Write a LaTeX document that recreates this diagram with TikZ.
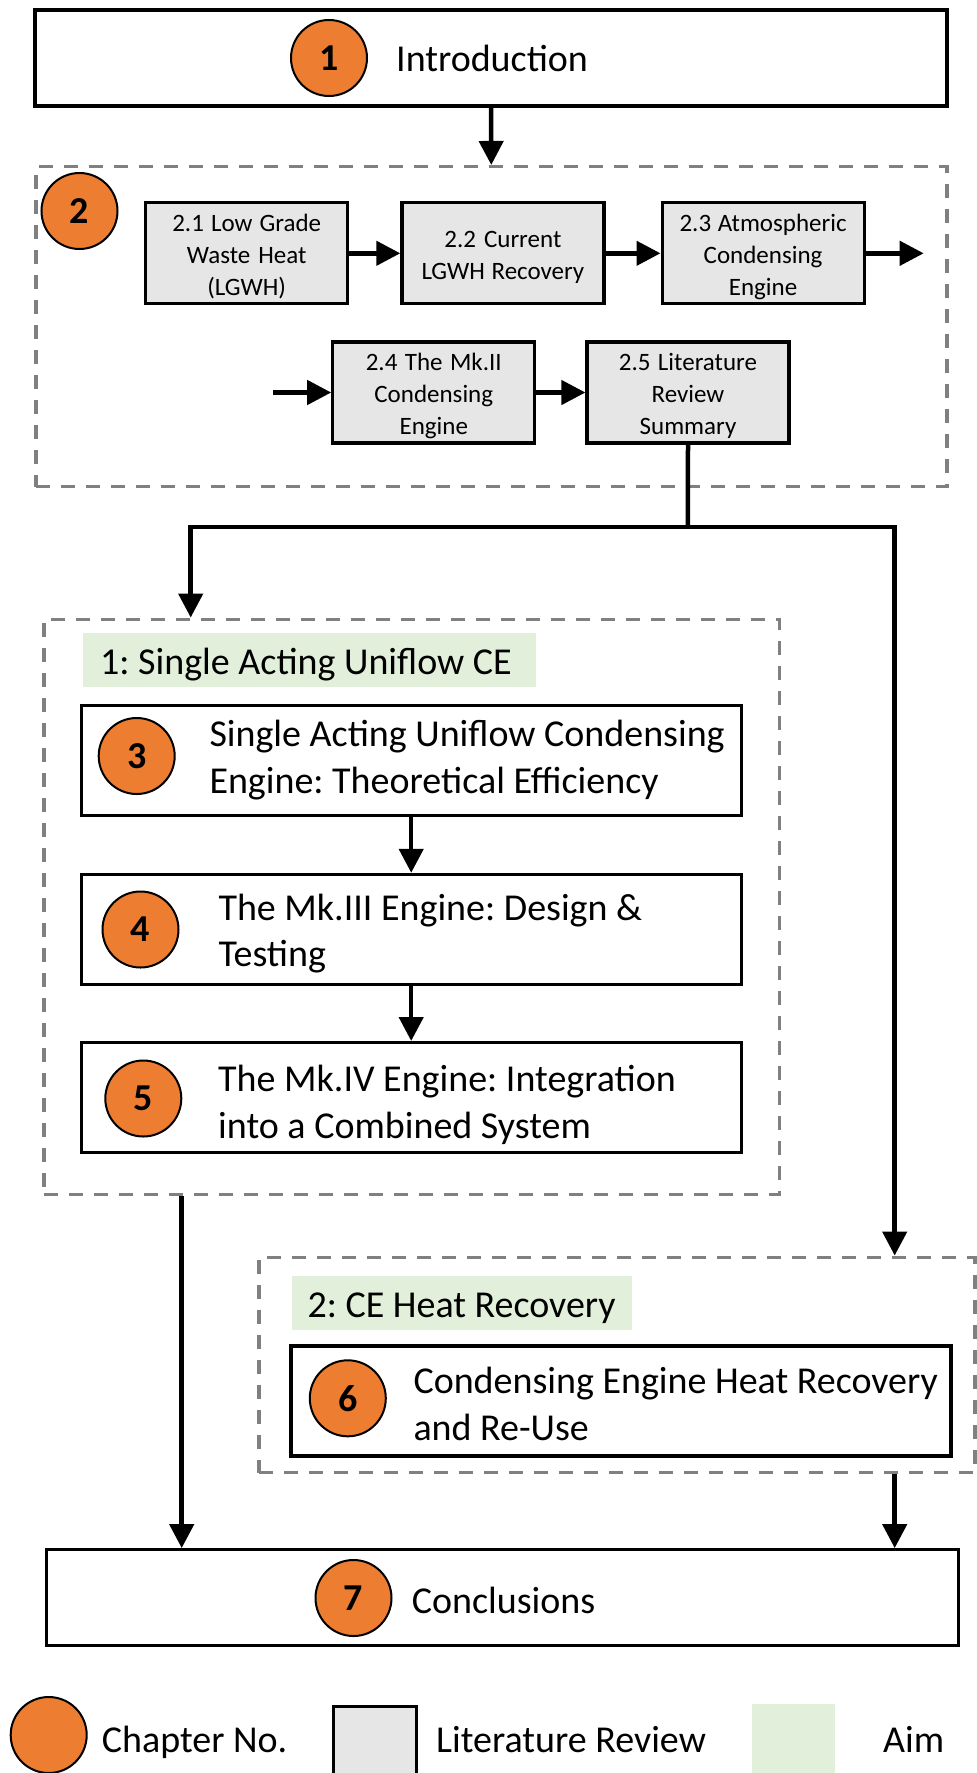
\documentclass[tikz,border=0pt]{standalone}
\usepackage{fontspec}
\setmainfont{Carlito}
\frenchspacing
\usetikzlibrary{arrows.meta,positioning}

\definecolor{chapter}{HTML}{ED7D31}
\definecolor{litgray}{HTML}{E7E6E6}
\definecolor{aimgreen}{HTML}{E2EFDA}
\definecolor{groupgray}{HTML}{808080}

\newcommand\litstrut{\rule[-5.75pt]{0pt}{31.7pt}}

\begin{document}
\begin{tikzpicture}[x=1pt,y=-1pt,>={Triangle[length=24pt,width=24pt]},
    chap/.style={circle,draw,fill=chapter,line width=2pt,minimum size=76pt,inner sep=0pt,
        font=\fontsize{38}{46}\selectfont\bfseries},
    chapbox/.style={draw,line width=3.2pt,minimum width=660pt,minimum height=110pt},
    endbox/.style={draw,line width=3.2pt,minimum width=912pt,minimum height=96pt},
    lit/.style={draw,fill=litgray,line width=3.2pt,minimum width=202pt,minimum height=101pt,
        text width=200pt,align=center,inner sep=0pt,font=\fontsize{25}{31.7}\selectfont,
        execute at begin node={\spaceskip=0pt\xspaceskip=0pt\litstrut},
        execute at end node=\litstrut},
    key/.style={minimum width=83pt,minimum height=83pt,anchor=north west},
    group/.style={draw=groupgray,line width=3.5pt,dash pattern=on 14pt off 11pt},
    big/.style={font=\fontsize{38}{46.7}\selectfont,inner sep=0pt},
    para/.style={big,anchor=base west,text width=560pt,align=left,
        execute at begin node={\spaceskip=0pt\xspaceskip=0pt}},
    aim/.style={big,fill=aimgreen,anchor=west,align=left,minimum height=54pt,
        text height=29pt,text depth=0pt,
        execute at begin node={\spaceskip=0pt\xspaceskip=0pt}},
    flow/.style={line width=4.5pt}]
  \useasboundingbox (0,0) rectangle (977,1773);
  \clip (0,0) rectangle (977,1773);

  \node[endbox] (intro) at (491,57.9) {};
  \node[chap] (c1) at (329,58) {1};
  \node[big,anchor=base west] (t1) at (396,71) {Introduction};

  \node[group,minimum width=911pt,minimum height=320pt] (review) at (491.3,326.7) {};
  \node[chap] (c2) at (79.5,211) {2};
  \node[lit] (l1) at (246.7,253.3) {2.1 Low Grade\\Waste Heat\\(LGWH)};
  \node[lit,right=51pt of l1] (l2) {2.2 Current\\LGWH Recovery};
  \node[lit,right=55pt of l2] (l3) {2.3 Atmospheric\\Condensing\\Engine};
  \node[lit] (l4) at (433.8,392.5) {2.4 The Mk.II\\Condensing\\Engine};
  \node[lit,right=49pt of l4] (l5) {2.5 Literature\\Review\\Summary};
  \coordinate (l3out) at (923.7,253.3);
  \coordinate (l4in) at (273.3,392.5);
  \coordinate (split) at (687.9,527);
  \coordinate (j1) at (190.7,527);
  \coordinate (j2) at (894.7,527);

  \node[group,minimum width=735.7pt,minimum height=575pt] (aim1) at (411.85,906.8) {};
  \node[aim,text width=418pt,inner xsep=17.7pt] (a1) at (82.3,660.3) {1: Single Acting Uniflow CE};
  \node[chapbox] (ch3) at (411.2,760.2) {};
  \node[chapbox,below=56pt of ch3] (ch4) {};
  \node[chapbox,below=55pt of ch4] (ch5) {};
  \node[chap] (c3) at (136.7,756) {3};
  \node[chap] (c4) at (140.5,929.5) {4};
  \node[chap] (c5) at (143.3,1098.5) {5};
  \node[para] (t3) at (209.3,746.7) {Single Acting Uniflow Condensing\\Engine: Theoretical Efficiency};
  \node[para] (t4) at (218.3,920) {The Mk.III Engine: Design \&\\Testing};
  \node[para] (t5) at (218,1091.8) {The Mk.IV Engine: Integration\\into a Combined System};
  \path (aim1.south) ++(-230.15,0) coordinate (d1);

  \node[group,minimum width=716pt,minimum height=215.4pt] (aim2) at (617,1365) {};
  \node[aim,text width=309.4pt,inner xsep=15.3pt] (a2) at (292,1303.4) {2: CE Heat Recovery};
  \node[chapbox] (ch6) at (621,1400.9) {};
  \node[chap] (c6) at (347.8,1398.3) {6};
  \node[para] (t6) at (413.3,1393.3) {Condensing Engine Heat Recovery\\and Re-Use};

  \node[endbox] (concl) at (502.7,1597.7) {};
  \node[chap] (c7) at (353.5,1598) {7};
  \node[big,anchor=base west] (t7) at (411.7,1613.3) {Conclusions};

  \draw[flow,->] (intro.south) -- (review.north);
  \draw[flow,->] (l1) -- (l2);
  \draw[flow,->] (l2) -- (l3);
  \draw[flow,->] (l3) -- (l3out);
  \draw[flow,->] (l4in) -- (l4);
  \draw[flow,->] (l4) -- (l5);
  \draw[flow] (l5.south) -- (split);
  \draw[flow,->] (split) -- (j1) -- (j1 |- aim1.north);
  \draw[flow,->] (split) -- (j2) -- (j2 |- aim2.north);
  \draw[flow,->] (ch3) -- (ch4);
  \draw[flow,->] (ch4) -- (ch5);
  \draw[flow,->] (d1) -- (d1 |- concl.north);
  \draw[flow,->] (aim2.south -| j2) -- (concl.north -| j2);

  \node[chap] (k1) at (48.7,1735) {};
  \node[big,anchor=base west] (k1t) at (101.7,1752) {Chapter No.};
  \node[key,draw,fill=litgray,line width=3.2pt] (k2) at (332,1705) {};
  \node[big,anchor=base west] (k2t) at (436,1752) {Literature Review};
  \node[key,fill=aimgreen] (k3) at (752,1704) {};
  \node[big,anchor=base west] (k3t) at (883,1752) {Aim};
\end{tikzpicture}
\end{document}
